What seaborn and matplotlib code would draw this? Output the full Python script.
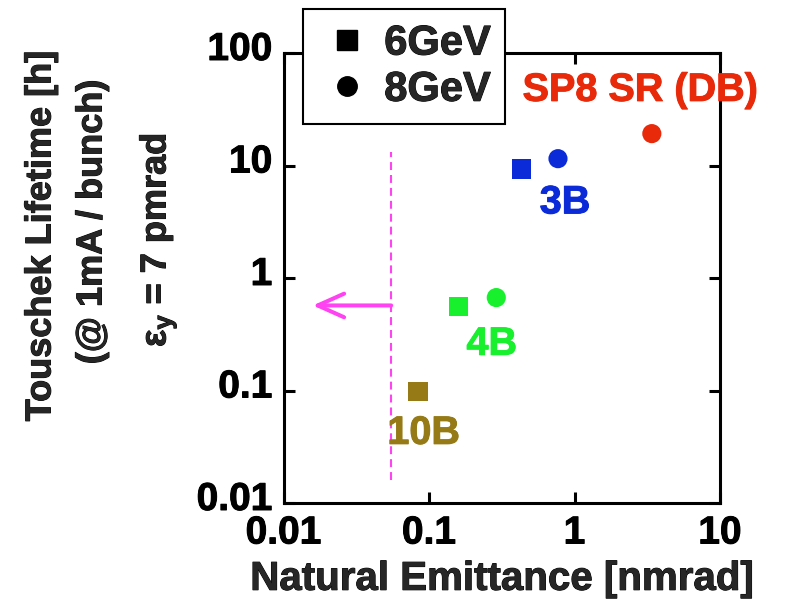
import numpy as np
import pandas as pd
import matplotlib
matplotlib.use('Agg')
import matplotlib.pyplot as plt
import matplotlib.patheffects as pe
from matplotlib.lines import Line2D
from matplotlib.ticker import NullLocator, FixedLocator, FixedFormatter
from matplotlib.transforms import ScaledTranslation
import seaborn as sns

# ---------------- data ----------------
ring = ['10B', '4B', '4B', '3B', '3B', 'SP8 SR (DB)']
energy = ['6GeV', '6GeV', '8GeV', '6GeV', '8GeV', '8GeV']
emittance = [0.084, 0.16, 0.29, 0.435, 0.77, 3.4]        # nmrad
lifetime = [0.098, 0.56, 0.67, 9.3, 11.5, 19.2]          # h

label_text = ['10B', '4B', '3B', 'SP8 SR (DB)']
label_x = [0.092, 0.27, 0.86, 2.82]
label_y = [0.042, 0.26, 4.7, 47]

ring_colors = {'10B': '#957a16', '4B': '#18f02e', '3B': '#0b2ad8',
               'SP8 SR (DB)': '#e8290a'}
energy_markers = {'6GeV': 's', '8GeV': 'o'}

limit_x = 0.055
limit_y = [0.016, 13.3]
arrow_x = [0.055, 0.0159]
arrow_y = 0.57

x_ticks = [0.01, 0.1, 1, 10]
x_ticklabels = ['0.01', '0.1', '1', '10']
y_ticks = [0.01, 0.1, 1, 10, 100]
y_ticklabels = ['0.01', '0.1', '1', '10', '100']

# ---------------- style ----------------
sns.set_style('ticks')
plt.rcParams['font.family'] = ['Liberation Sans', 'DejaVu Sans']
plt.rcParams['font.weight'] = 'bold'
plt.rcParams['mathtext.fontset'] = 'custom'
plt.rcParams['mathtext.rm'] = 'Liberation Sans:bold'
plt.rcParams['mathtext.bf'] = 'Liberation Sans:bold'
plt.rcParams['mathtext.it'] = 'Liberation Sans:bold'


def heavy(color='black'):
    return [pe.withStroke(linewidth=0.7, foreground=color)]


W, H = 794, 613
fig = plt.figure(figsize=(W / 100, H / 100), dpi=100)
ax_l, ax_r, ax_t, ax_b = 283.5, 720, 53, 503
ax = fig.add_axes([ax_l / W, 1 - ax_b / H, (ax_r - ax_l) / W, (ax_b - ax_t) / H])

df = pd.DataFrame({'emittance': emittance, 'lifetime': lifetime,
                   'ring': ring, 'energy': energy})

sns.scatterplot(data=df, x='emittance', y='lifetime', hue='ring', style='energy',
                palette=ring_colors, markers=energy_markers, s=190, linewidth=0,
                legend=False, ax=ax, zorder=3)

ax.set_xscale('log')
ax.set_yscale('log')
ax.set_xlim(0.01, 10)
ax.set_ylim(0.01, 100)
ax.xaxis.set_major_locator(FixedLocator(x_ticks))
ax.xaxis.set_major_formatter(FixedFormatter(x_ticklabels))
ax.yaxis.set_major_locator(FixedLocator(y_ticks))
ax.yaxis.set_major_formatter(FixedFormatter(y_ticklabels))
ax.xaxis.set_minor_locator(NullLocator())
ax.yaxis.set_minor_locator(NullLocator())

for sp in ax.spines.values():
    sp.set_visible(True)
    sp.set_linewidth(2.2)
    sp.set_color('black')
ax.tick_params(which='major', direction='in', length=8, width=2.2,
               top=True, right=True, labelsize=28, colors='black')
ax.tick_params(axis='x', pad=9)
ax.tick_params(axis='y', pad=8)
for lab in ax.get_yticklabels():
    lab.set_fontweight('bold')
    lab.set_path_effects(heavy())
    lab.set_transform(lab.get_transform() + ScaledTranslation(0, 0.07, fig.dpi_scale_trans))
for lab in ax.get_xticklabels():
    lab.set_fontweight('bold')
    lab.set_path_effects(heavy())

xl = ax.set_xlabel('Natural Emittance [nmrad]', fontsize=29, fontweight='bold', labelpad=6)
xl.set_path_effects(heavy())
ax.set_ylabel('')

# threshold line and arrow
pink = '#ff42f2'
ax.plot([limit_x, limit_x], limit_y, color=pink, lw=1.5, ls=(0, (3.8, 2.4)), zorder=2)
ax.annotate('', xy=(arrow_x[1], arrow_y), xytext=(arrow_x[0], arrow_y),
            arrowprops=dict(arrowstyle='->,head_length=1.9,head_width=0.85',
                            color=pink, lw=2.9, mutation_scale=10,
                            shrinkA=0, shrinkB=0, capstyle='round',
                            joinstyle='round'))

# ring labels
for t, x, y in zip(label_text, label_x, label_y):
    ax.text(x, y, t, color=ring_colors[t], fontsize=28.5, fontweight='bold',
            ha='center', va='center', clip_on=False,
            path_effects=heavy(ring_colors[t]))

# y-axis label (three lines)
fig.text(41 / W, 1 - 236 / H, 'Touschek Lifetime [h]', rotation=90,
         fontsize=26, fontweight='bold', ha='center', va='center',
         path_effects=heavy())
fig.text(92 / W, 1 - 222 / H, '(@ 1mA / bunch)', rotation=90,
         fontsize=26, fontweight='bold', ha='center', va='center',
         path_effects=heavy())
fig.text(158 / W, 1 - 240 / H, r'ε$_{\mathbf{y}}$ = 7 pmrad', rotation=90,
         fontsize=26, fontweight='bold', ha='center', va='center',
         path_effects=heavy())

# legend
handles = [Line2D([], [], marker=energy_markers[e], color='black', linestyle='',
                  markersize=14) for e in ['6GeV', '8GeV']]
leg = fig.legend(handles, ['6GeV', '8GeV'], loc='upper left',
                 bbox_to_anchor=(303 / W, 1 - 9 / H), borderaxespad=0,
                 prop={'size': 30, 'weight': 'bold'}, frameon=True, fancybox=False,
                 edgecolor='black', framealpha=1, handlelength=1.4,
                 handletextpad=0.2, labelspacing=0.15, borderpad=0.35)
leg.get_frame().set_linewidth(1.5)
for txt in leg.get_texts():
    txt.set_path_effects(heavy())

fig.savefig('out.png', dpi=100)
